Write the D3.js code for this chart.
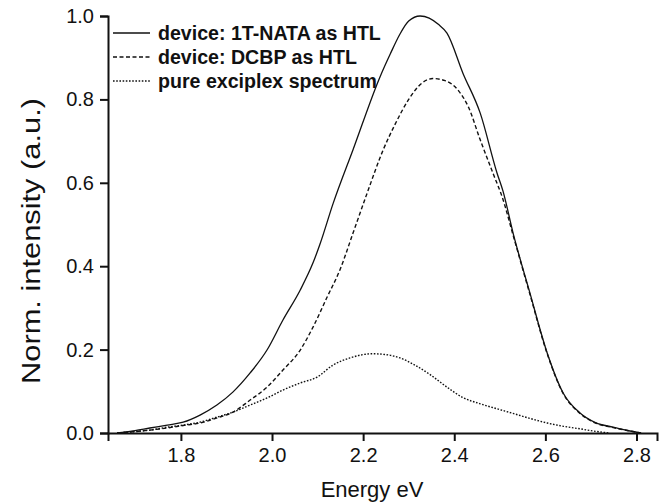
<!DOCTYPE html>
<html><head><meta charset="utf-8">
<script src="https://cdn.jsdelivr.net/npm/d3@7"></script>
<style>
html,body{margin:0;padding:0;background:#fff;}
text{font-family:"Liberation Sans",Arial,Helvetica,sans-serif;fill:#111;}
</style></head>
<body><svg id="c" width="662" height="502"></svg>
<script>
// ---- data ----
const energyNATA = [1.66,1.695,1.732,1.77,1.805,1.842,1.879,1.914,1.952,1.989,2.024,2.062,2.09,2.105,2.134,2.178,2.237,2.26,2.28,2.30,2.325,2.345,2.365,2.384,2.419,2.457,2.494,2.507,2.529,2.566,2.604,2.639,2.676,2.71,2.749,2.78,2.81];
const valueNATA  = [0.0,0.005,0.012,0.019,0.026,0.043,0.067,0.098,0.144,0.199,0.271,0.343,0.408,0.452,0.55,0.68,0.854,0.91,0.955,0.988,1.0,0.995,0.98,0.959,0.863,0.767,0.623,0.58,0.48,0.336,0.192,0.096,0.048,0.025,0.014,0.006,0.0];

const energyDCBP = [1.66,1.695,1.732,1.77,1.805,1.842,1.879,1.914,1.952,1.989,2.024,2.062,2.09,2.121,2.149,2.178,2.209,2.244,2.27,2.30,2.33,2.353,2.38,2.41,2.431,2.457,2.485,2.507,2.529,2.566,2.604,2.639,2.676,2.71,2.749,2.78,2.81];
const valueDCBP  = [0.0,0.003,0.007,0.012,0.018,0.024,0.036,0.05,0.079,0.11,0.151,0.199,0.254,0.326,0.391,0.48,0.576,0.679,0.74,0.80,0.84,0.85,0.845,0.82,0.782,0.703,0.623,0.56,0.475,0.333,0.19,0.095,0.047,0.024,0.013,0.006,0.0];

const energyExciplex = [1.66,1.695,1.732,1.77,1.805,1.842,1.879,1.914,1.952,1.989,2.024,2.062,2.099,2.134,2.171,2.22,2.25,2.281,2.31,2.347,2.384,2.419,2.457,2.494,2.529,2.566,2.604,2.64,2.676,2.71,2.74];
const valueExciplex  = [0.0,0.003,0.007,0.014,0.019,0.026,0.038,0.05,0.067,0.084,0.103,0.12,0.134,0.163,0.18,0.19,0.188,0.18,0.165,0.14,0.11,0.085,0.07,0.058,0.047,0.035,0.024,0.016,0.01,0.004,0.0];

const seriesNames = ["device: 1T-NATA as HTL","device: DCBP as HTL","pure exciplex spectrum"];
const seriesDash  = [null,"4,2.5","1.6,1.6"];

const xMajor = [1.8,2.0,2.2,2.4,2.6,2.8];
const xMinor = [1.7,1.9,2.1,2.3,2.5,2.7];
const yMajor = [0.0,0.2,0.4,0.6,0.8,1.0];
const yMinor = [0.1,0.3,0.5,0.7,0.9];

const xTitle = "Energy eV";
const yTitle = "Norm. intensity (a.u.)";

// ---- chart ----
const svg = d3.select("#c");
const x = d3.scaleLinear().domain([1.64, 2.845]).range([108, 657]);
const y = d3.scaleLinear().domain([0, 1]).range([433, 16]);

const series = [
  {name: seriesNames[0], e: energyNATA, v: valueNATA, dash: seriesDash[0]},
  {name: seriesNames[1], e: energyDCBP, v: valueDCBP, dash: seriesDash[1]},
  {name: seriesNames[2], e: energyExciplex, v: valueExciplex, dash: seriesDash[2]}
];

const line = d3.line().x(d => x(d[0])).y(d => y(d[1])).curve(d3.curveMonotoneX);
series.forEach(s => {
  svg.append("path")
    .datum(s.e.map((e,i) => [e, s.v[i]]))
    .attr("d", line)
    .attr("fill","none")
    .attr("stroke","#111")
    .attr("stroke-width", s.dash ? 1.4 : 1.3)
    .attr("stroke-dasharray", s.dash);
});

// axes
const gx = svg.append("g").attr("transform", `translate(0,${y(0)})`);
gx.call(d3.axisBottom(x).tickValues(xMinor).tickSize(5).tickFormat(""));
gx.call(d3.axisBottom(x).tickValues(xMajor).tickSize(8).tickPadding(7).tickFormat(d3.format(".1f")));
const gy = svg.append("g").attr("transform", `translate(${x(1.64)},0)`);
gy.call(d3.axisLeft(y).tickValues(yMinor).tickSize(5).tickFormat(""));
gy.call(d3.axisLeft(y).tickValues(yMajor).tickSize(8).tickPadding(6).tickFormat(d3.format(".1f")));
svg.selectAll(".domain").attr("stroke","#111").attr("stroke-width",2);
svg.selectAll(".tick line").attr("stroke","#111").attr("stroke-width",2);
svg.selectAll(".tick text").attr("font-size",20).attr("font-family","Liberation Sans, Arial, sans-serif").attr("fill","#111");

svg.append("text").attr("x", 372).attr("y", 497).attr("text-anchor","middle")
  .attr("font-size",22).text(xTitle);
svg.append("text").attr("transform",`translate(40,241) rotate(-90)`)
  .attr("text-anchor","middle").attr("font-size",25)
  .attr("textLength",286).attr("lengthAdjust","spacingAndGlyphs").text(yTitle);

// legend
const leg = svg.append("g");
series.forEach((s,i) => {
  const base = 40 + i*24;
  leg.append("line").attr("x1",113).attr("x2",150).attr("y1",base-7).attr("y2",base-7)
    .attr("stroke","#111").attr("stroke-width",1.3).attr("stroke-dasharray", s.dash);
  leg.append("text").attr("x",158).attr("y",base).attr("font-size",19.6)
    .attr("font-weight","bold").text(s.name);
});
</script></body></html>
